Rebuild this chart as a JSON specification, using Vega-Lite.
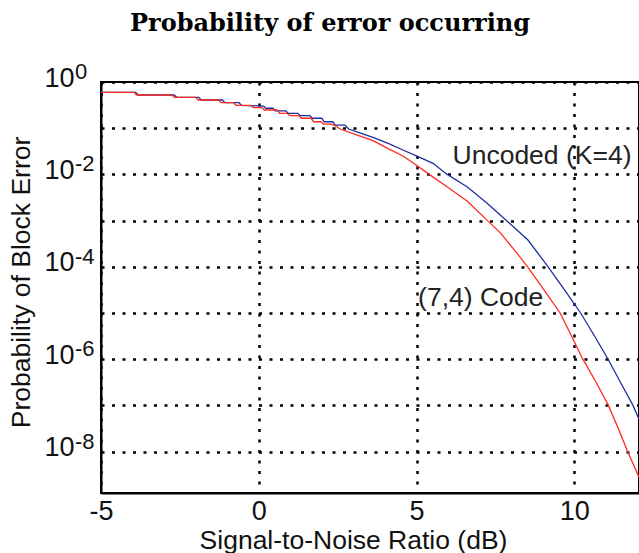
{
  "$schema": "https://vega.github.io/schema/vega-lite/v6.json",
  "width": 538,
  "height": 411,
  "autosize": "none",
  "padding": {"left": 101, "top": 82, "right": 0, "bottom": 60},
  "background": "white",
  "config": {
    "view": {"stroke": "black", "strokeWidth": 2},
    "font": "Liberation Sans"
  },
  "title": {
    "text": "Probability of error occurring",
    "font": "DejaVu Serif",
    "fontSize": 24,
    "fontWeight": "bold",
    "color": "black",
    "anchor": "middle",
    "dx": -40,
    "offset": 6,
    "baseline": "alphabetic"
  },
  "datasets": {
    "uncoded": [
      {"snr": -5, "p": 0.599}, {"snr": -3.9, "p": 0.599}, {"snr": -3.82, "p": 0.523},
      {"snr": -2.68, "p": 0.523}, {"snr": -2.6, "p": 0.467}, {"snr": -1.9, "p": 0.467},
      {"snr": -1.82, "p": 0.408}, {"snr": -1.15, "p": 0.408}, {"snr": -1.07, "p": 0.356},
      {"snr": -0.62, "p": 0.356}, {"snr": -0.55, "p": 0.313}, {"snr": 0.15, "p": 0.302},
      {"snr": 0.22, "p": 0.27}, {"snr": 0.45, "p": 0.27}, {"snr": 0.52, "p": 0.236},
      {"snr": 0.86, "p": 0.236}, {"snr": 0.93, "p": 0.21}, {"snr": 1.24, "p": 0.21},
      {"snr": 1.31, "p": 0.1865}, {"snr": 1.62, "p": 0.1865}, {"snr": 1.69, "p": 0.164},
      {"snr": 2.0, "p": 0.164}, {"snr": 2.07, "p": 0.138}, {"snr": 2.35, "p": 0.138},
      {"snr": 2.42, "p": 0.117}, {"snr": 2.73, "p": 0.117}, {"snr": 2.85, "p": 0.096},
      {"snr": 3.2, "p": 0.079}, {"snr": 3.62, "p": 0.0635}, {"snr": 4.1, "p": 0.047},
      {"snr": 4.57, "p": 0.0337}, {"snr": 5.05, "p": 0.0242}, {"snr": 5.52, "p": 0.0174},
      {"snr": 5.97, "p": 0.01}, {"snr": 6.6, "p": 0.00542}, {"snr": 7.2, "p": 0.0025},
      {"snr": 7.85, "p": 0.001}, {"snr": 8.53, "p": 0.00038}, {"snr": 9.17, "p": 0.0001},
      {"snr": 9.7, "p": 0.000031}, {"snr": 10.2, "p": 0.00001}, {"snr": 10.65, "p": 0.0000031},
      {"snr": 11.07, "p": 0.000001}, {"snr": 11.47, "p": 0.00000031}, {"snr": 11.86, "p": 0.0000001},
      {"snr": 12.05, "p": 0.00000005}
    ],
    "coded": [
      {"snr": -5, "p": 0.599}, {"snr": -3.95, "p": 0.599}, {"snr": -3.87, "p": 0.523},
      {"snr": -2.75, "p": 0.523}, {"snr": -2.67, "p": 0.467}, {"snr": -2.0, "p": 0.467},
      {"snr": -1.92, "p": 0.408}, {"snr": -1.27, "p": 0.408}, {"snr": -1.19, "p": 0.356},
      {"snr": -0.8, "p": 0.356}, {"snr": -0.72, "p": 0.313}, {"snr": -0.25, "p": 0.313},
      {"snr": -0.17, "p": 0.28}, {"snr": 0.1, "p": 0.28}, {"snr": 0.18, "p": 0.248},
      {"snr": 0.58, "p": 0.248}, {"snr": 0.66, "p": 0.21}, {"snr": 0.9, "p": 0.21},
      {"snr": 0.98, "p": 0.1865}, {"snr": 1.28, "p": 0.1865}, {"snr": 1.36, "p": 0.164},
      {"snr": 1.66, "p": 0.164}, {"snr": 1.74, "p": 0.138}, {"snr": 1.97, "p": 0.138},
      {"snr": 2.05, "p": 0.123}, {"snr": 2.3, "p": 0.123}, {"snr": 2.38, "p": 0.117},
      {"snr": 2.58, "p": 0.096}, {"snr": 3.1, "p": 0.072}, {"snr": 3.62, "p": 0.0536},
      {"snr": 4.1, "p": 0.036}, {"snr": 4.57, "p": 0.025}, {"snr": 5.0, "p": 0.0158},
      {"snr": 5.4, "p": 0.01}, {"snr": 6.0, "p": 0.0052}, {"snr": 6.6, "p": 0.00265},
      {"snr": 7.25, "p": 0.001}, {"snr": 7.65, "p": 0.00055}, {"snr": 8.2, "p": 0.00019},
      {"snr": 8.52, "p": 0.0001}, {"snr": 9.05, "p": 0.000031}, {"snr": 9.55, "p": 0.00001},
      {"snr": 9.92, "p": 0.0000031}, {"snr": 10.27, "p": 0.000001}, {"snr": 10.7, "p": 0.00000031},
      {"snr": 11.08, "p": 0.0000001}, {"snr": 11.4, "p": 0.000000031}, {"snr": 11.69, "p": 0.00000001},
      {"snr": 12.05, "p": 0.0000000028}
    ],
    "expo": [
      {"p": 1, "e": "0"}, {"p": 0.01, "e": "-2"}, {"p": 0.0001, "e": "-4"},
      {"p": 0.000001, "e": "-6"}, {"p": 0.00000001, "e": "-8"}
    ],
    "notes": [
      {"snr": 6.14, "p": 0.0245, "label": "Uncoded (K=4)"},
      {"snr": 5.05, "p": 0.0000215, "label": "(7,4) Code"}
    ]
  },
  "layer": [
    {
      "data": {"name": "uncoded"},
      "mark": {"type": "line", "color": "#1f2f9c", "strokeWidth": 1.3, "clip": true},
      "encoding": {
        "x": {
          "field": "snr", "type": "quantitative",
          "scale": {"domain": [-5, 12.05], "nice": false, "zero": false},
          "axis": {
            "values": [-5, 0, 5, 10],
            "labelExpr": "datum.value < 0 ? '-' + abs(datum.value) : '' + datum.value",
            "title": "Signal-to-Noise Ratio (dB)",
            "titleFont": "Liberation Sans", "titleFontSize": 26.5, "titleFontWeight": "normal",
            "titleColor": "#111", "titleX": 252, "titleY": 55, "titleBaseline": "alphabetic",
            "labelFont": "Liberation Sans", "labelFontSize": 27, "labelColor": "#111",
            "labelPadding": 5, "labelFlush": false, "labelOverlap": false,
            "ticks": false, "domainColor": "black", "domainWidth": 2,
            "grid": true, "gridColor": "black", "gridDash": [3, 7.5], "gridWidth": 2.5, "gridOpacity": 1
          }
        },
        "y": {
          "field": "p", "type": "quantitative",
          "scale": {"type": "log", "domain": [1.27e-9, 1], "nice": false},
          "axis": {
            "values": [1, 0.1, 0.01, 0.001, 0.0001, 0.00001, 0.000001, 0.0000001, 0.00000001],
            "labelExpr": "round(log(datum.value)/LN10) % 2 == 0 ? '10' : ''",
            "title": "Probability of Block Error",
            "titleFont": "Liberation Sans", "titleFontSize": 26.5, "titleFontWeight": "normal",
            "titleColor": "#111", "titleX": -80, "titleY": 200, "titleBaseline": "middle",
            "titleAlign": "center", "titleAngle": -90,
            "labelFont": "Liberation Sans", "labelFontSize": 27, "labelColor": "#111",
            "labelPadding": 27, "labelOverlap": false, "labelBaseline": "middle", "labelOffset": -4,
            "ticks": false, "domainColor": "black", "domainWidth": 2,
            "grid": true, "gridColor": "black", "gridDash": [3, 7.5], "gridWidth": 2.5, "gridOpacity": 1
          }
        }
      }
    },
    {
      "data": {"name": "coded"},
      "mark": {"type": "line", "color": "#ff2a1f", "strokeWidth": 1.3, "clip": true},
      "encoding": {
        "x": {"field": "snr", "type": "quantitative"},
        "y": {"field": "p", "type": "quantitative"}
      }
    },
    {
      "data": {"name": "expo"},
      "mark": {"type": "text", "align": "left", "baseline": "middle", "dx": -26, "dy": -10,
               "fontSize": 22, "font": "Liberation Sans", "color": "#111", "clip": false},
      "encoding": {
        "x": {"datum": -5, "type": "quantitative"},
        "y": {"field": "p", "type": "quantitative"},
        "text": {"field": "e"}
      }
    },
    {
      "data": {"name": "notes"},
      "mark": {"type": "text", "align": "left", "baseline": "middle",
               "fontSize": 26.5, "font": "Liberation Sans", "color": "#222"},
      "encoding": {
        "x": {"field": "snr", "type": "quantitative"},
        "y": {"field": "p", "type": "quantitative"},
        "text": {"field": "label"}
      }
    }
  ]
}
